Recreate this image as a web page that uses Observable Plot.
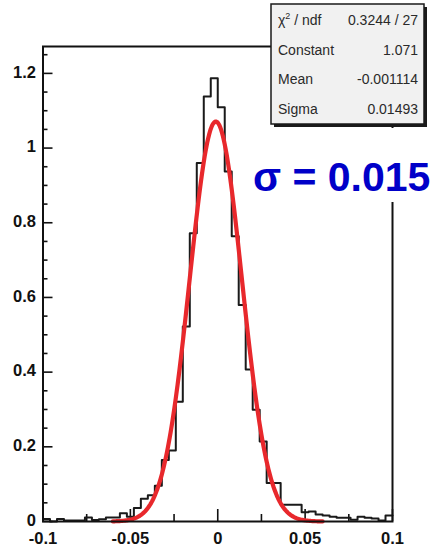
<!DOCTYPE html>
<html>
<head>
<meta charset="utf-8">
<script src="https://cdn.jsdelivr.net/npm/d3@7"></script>
<script src="https://cdn.jsdelivr.net/npm/@observablehq/plot@0.6"></script>
<style>
  html, body { margin: 0; padding: 0; background: #fff; }
  #chart { width: 430px; height: 547px; overflow: hidden; }
</style>
</head>
<body>
<div id="chart"></div>
<script>
// Histogram: 50 bins of width 0.004 between -0.1 and 0.1
const histLow = -0.1;
const histHigh = 0.1;
const binContents = [
  0.007, 0.000, 0.007, 0.003, 0.003, 0.003, 0.011, 0.004, 0.006, 0.011,
  0.011, 0.022, 0.013, 0.036, 0.061, 0.070, 0.096, 0.165, 0.190, 0.321,
  0.522, 0.772, 0.960, 1.138, 1.187, 1.109, 0.937, 0.764, 0.580, 0.407,
  0.299, 0.214, 0.103, 0.103, 0.045, 0.045, 0.045, 0.025, 0.027, 0.019,
  0.016, 0.013, 0.010, 0.010, 0.005, 0.013, 0.010, 0.008, 0.003, 0.016
];

// Gaussian fit result
const fitConstant = 1.071;
const fitMean = -0.001114;
const fitSigma = 0.01493;
const fitRange = [-0.06, 0.06];

// Statistics box
const statNames = ["ndf", "Constant", "Mean", "Sigma"];
const statValues = ["0.3244 / 27", "1.071", "-0.001114", "0.01493"];
const sigmaLabel = "σ = 0.015";

// Axis ticks and labels
const xLabels = [-0.1, -0.05, 0, 0.05, 0.1];
const xMinorTicks = [-0.075, -0.025, 0.025, 0.075];
const yLabels = [0, 0.2, 0.4, 0.6, 0.8, 1, 1.2];
const yMinorTicks = [0.05, 0.1, 0.15, 0.25, 0.3, 0.35, 0.45, 0.5, 0.55, 0.65, 0.7, 0.75,
                     0.85, 0.9, 0.95, 1.05, 1.1, 1.15, 1.25];
const yMax = 1.272;

// Histogram outline as a step line through the bin low edges
const binWidth = (histHigh - histLow) / binContents.length;
const histSteps = binContents.map((v, i) => ({x: histLow + i * binWidth, y: v}));
histSteps.push({x: histHigh, y: binContents[binContents.length - 1]});

// Fit function sampled over its range
const nSamples = 240;
const fitCurve = d3.range(nSamples + 1).map(k => {
  const x = fitRange[0] + (fitRange[1] - fitRange[0]) * k / nSamples;
  const z = (x - fitMean) / fitSigma;
  return {x, y: fitConstant * Math.exp(-0.5 * z * z)};
});

const W = 430, H = 547;
const mL = 42.5, mR = 38, mT = 46, mB = 26;
const innerW = W - mL - mR, innerH = H - mT - mB;
const font = "'Liberation Sans', Arial, Helvetica, sans-serif";

const svg = Plot.plot({
  width: W,
  height: H,
  marginLeft: mL,
  marginRight: mR,
  marginTop: mT,
  marginBottom: mB,
  style: {background: "white", fontFamily: font, overflow: "visible"},
  x: {domain: [histLow, histHigh], axis: null},
  y: {domain: [0, yMax], axis: null},
  marks: [
    // inward ticks on the bottom axis
    Plot.tickX(xLabels, {x: d => d, insetTop: innerH - 12, stroke: "#111", strokeWidth: 1.6}),
    Plot.tickX(xMinorTicks, {x: d => d, insetTop: innerH - 7, stroke: "#111", strokeWidth: 1.6}),
    // inward ticks on the left axis
    Plot.tickY(yLabels, {y: d => d, insetRight: innerW - 10, stroke: "#111", strokeWidth: 1.6}),
    Plot.tickY(yMinorTicks, {y: d => d, insetRight: innerW - 5, stroke: "#111", strokeWidth: 1.6}),
    // histogram
    Plot.line(histSteps, {x: "x", y: "y", curve: "step-after", stroke: "#1a1a1a", strokeWidth: 2}),
    // Gaussian fit
    Plot.line(fitCurve, {x: "x", y: "y", stroke: "#e8282c", strokeWidth: 4.2, curve: "linear"}),
    Plot.frame({stroke: "#111", strokeWidth: 2}),
    // tick labels
    Plot.text(xLabels, {x: d => d, y: 0, text: d => String(d), dy: 17, lineAnchor: "middle",
      textAnchor: "middle", fontSize: 16.5, fontWeight: "bold", fill: "#111"}),
    Plot.text(yLabels, {x: histLow, y: d => d, text: d => String(d), dx: -7, dy: -1, lineAnchor: "middle",
      textAnchor: "end", fontSize: 16.5, fontWeight: "bold", fill: "#111"})
  ]
});

document.getElementById("chart").appendChild(svg);

// Annotations drawn on top of the plot
const root = d3.select(svg);

// white pad behind the sigma label
const sigmaPad = root.append("g");
sigmaPad.append("rect")
  .attr("x", 249).attr("y", 128).attr("width", 185).attr("height", 74)
  .attr("fill", "white");
sigmaPad.append("text")
  .attr("x", 253).attr("y", 191)
  .attr("text-anchor", "start")
  .attr("font-family", font).attr("font-weight", "bold").attr("font-size", 41)
  .attr("fill", "#0000c8")
  .text(sigmaLabel);

// statistics box with shadow
const box = {x: 271, y: 4, w: 153, h: 120};
const stats = root.append("g")
  .attr("font-family", font).attr("font-size", 14).attr("fill", "#2a2a2a");
stats.append("rect")
  .attr("x", box.x + 3).attr("y", box.y + 3).attr("width", box.w).attr("height", box.h)
  .attr("fill", "#1a1a1a");
stats.append("rect")
  .attr("x", box.x).attr("y", box.y).attr("width", box.w).attr("height", box.h)
  .attr("fill", "#f1f1f1").attr("stroke", "#1a1a1a").attr("stroke-width", 1.5);

const rowY = [25, 54.5, 84, 113.5];
statNames.forEach((name, i) => {
  const t = stats.append("text")
    .attr("x", box.x + 7).attr("y", rowY[i]).attr("text-anchor", "start");
  if (i === 0) {
    t.append("tspan").text("χ");
    t.append("tspan").attr("font-size", 9).attr("dy", -6).text("2");
    t.append("tspan").attr("dy", 6).text(" / " + name);
  } else {
    t.text(name);
  }
  stats.append("text")
    .attr("x", box.x + box.w - 6).attr("y", rowY[i])
    .attr("text-anchor", "end")
    .text(statValues[i]);
});
</script>
</body>
</html>
